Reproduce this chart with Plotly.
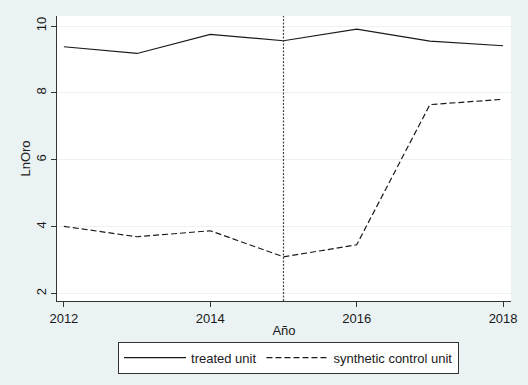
import plotly.graph_objects as go

years = [2012, 2013, 2014, 2015, 2016, 2017, 2018]
treated = [9.38, 9.18, 9.75, 9.56, 9.91, 9.55, 9.41]
synthetic = [4.01, 3.70, 3.88, 3.10, 3.46, 7.65, 7.81]
treatment_year = 2015
x_ticks = [2012, 2014, 2016, 2018]
y_ticks = [2, 4, 6, 8, 10]

bg = "#eaf2f3"
ink = "#1a1a1a"
font = "Liberation Sans, Arial, sans-serif"

fig = go.Figure()
fig.add_trace(go.Scatter(
    x=years, y=treated, mode="lines", name="treated unit",
    line=dict(color=ink, width=1.2),
))
fig.add_trace(go.Scatter(
    x=years, y=synthetic, mode="lines", name="synthetic control unit",
    line=dict(color=ink, width=1.2, dash="6px,3px"),
))

fig.add_shape(
    type="line", xref="x", yref="paper",
    x0=treatment_year, x1=treatment_year, y0=0, y1=1,
    line=dict(color="#444444", width=1.2, dash="2px,1.5px"),
)

fig.update_layout(
    width=528, height=385,
    margin=dict(l=57, r=11, t=16, b=83),
    paper_bgcolor=bg, plot_bgcolor="white",
    font=dict(family=font, size=12, color=ink),
    showlegend=True,
    legend=dict(
        orientation="h", x=0.51, xanchor="center", y=-0.143, yanchor="top",
        bgcolor="white", bordercolor="#333333", borderwidth=1,
        font=dict(size=13), itemwidth=62,
        tracegroupgap=0,
    ),
)
fig.update_xaxes(
    range=[2011.906, 2018.108], tickvals=x_ticks,
    showgrid=False, zeroline=False,
    showline=True, linecolor="#333333", linewidth=1,
    ticks="outside", ticklen=5, tickcolor="#333333",
    tickfont=dict(size=13),
    title=dict(text="Año", font=dict(size=13), standoff=1),
)
fig.update_yaxes(
    range=[1.78, 10.3], tickvals=y_ticks, tickangle=-90,
    showgrid=True, gridcolor=bg, gridwidth=1, zeroline=False,
    showline=True, linecolor="#333333", linewidth=1,
    ticks="outside", ticklen=5, tickcolor="#333333",
    tickfont=dict(size=13),
    title=dict(text="LnOro", font=dict(size=13), standoff=0),
)

fig.write_html("out.html")
